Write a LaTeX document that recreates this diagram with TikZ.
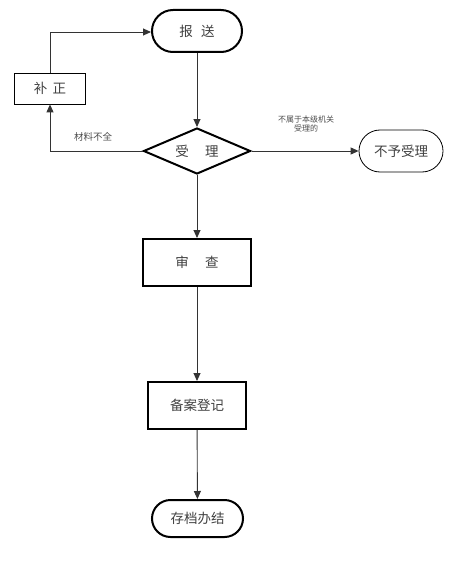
\documentclass[tikz,border=0pt]{standalone}
\usepackage{fontspec}
\newfontfamily\cjk{Noto Sans CJK SC}
\usetikzlibrary{shapes.geometric,arrows.meta}
\begin{document}
\begin{tikzpicture}[x=1pt,y=-1pt,
  font=\cjk\fontsize{13.5}{15}\selectfont,
  thickbox/.style={draw, line width=2pt, inner sep=0pt, text=black!75},
  thinbox/.style={draw, line width=0.8pt, inner sep=0pt, text=black!75},
  conn/.style={draw=black!80, line width=0.9pt, -{Triangle[length=8pt,width=7pt]}},
  lbl/.style={font=\cjk\fontsize{9.5}{11}\selectfont, text=black!70}
]
\useasboundingbox (0,0) rectangle (448,564);
\node[thickbox, rounded corners=21pt, minimum width=90pt, minimum height=42pt] (bs) at (197,31) {报\hspace{0.6em}送};
\node[thinbox, minimum width=71pt, minimum height=31pt] (bz) at (50,88.5) {补\hspace{0.4em}正};
\node[thickbox, diamond, aspect=2.33, minimum width=107pt, minimum height=46pt] (sl) at (197,151) {};
\node[text=black!75] (slt) at (197,151) {受\hspace{1.2em}理};
\node[thinbox, rounded corners=21pt, minimum width=84pt, minimum height=42pt] (by) at (401,151) {不予受理};
\node[thickbox, minimum width=108pt, minimum height=47pt] (sc) at (197,262.5) {审\hspace{1.2em}查};
\node[thickbox, minimum width=98pt, minimum height=47pt] (ba) at (197,405.5) {备案登记};
\node[thickbox, rounded corners=18.5pt, minimum width=91pt, minimum height=37pt] (cd) at (197.5,518.5) {存档办结};
\coordinate (c1) at (50,151);
\coordinate (c2) at (50,32);
\draw[conn] (bs) -- (sl);
\draw[conn] (sl.west) -- (c1) -- (bz.south);
\draw[conn] (bz.north) -- (c2) -- (bs.west |- c2);
\draw[conn] (sl.east) -- (by.west);
\draw[conn] (sl) -- (sc);
\draw[conn] (sc) -- (ba);
\draw[conn] (ba) -- (cd);
\node[lbl] (l1) at (93,137) {材料不全};
\node[lbl, font=\cjk\fontsize{8}{9.5}\selectfont, align=center] (l2) at (306,124) {不属于本级机关\\受理的};
\end{tikzpicture}
\end{document}
